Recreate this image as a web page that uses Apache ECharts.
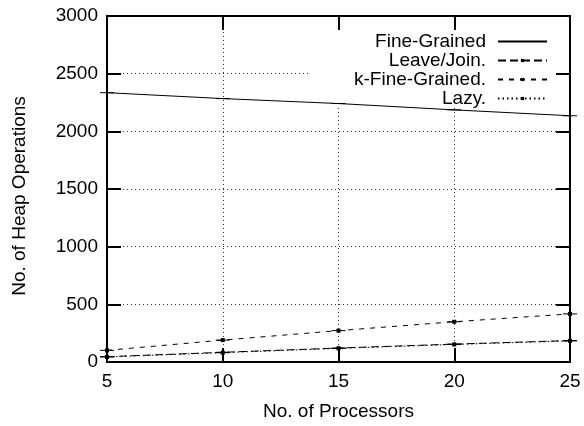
<!DOCTYPE html>
<html><head><meta charset="utf-8">
<script src="https://cdn.jsdelivr.net/npm/echarts@6/dist/echarts.min.js"></script>
<style>html,body{margin:0;padding:0;background:#fff}#c{width:584px;height:426px}</style>
</head><body><div id="c"></div>
<script>
const processors = [5, 10, 15, 20, 25];
const fineGrained = [2335, 2284, 2241, 2186, 2135];
const leaveJoin = [46, 84, 121, 155, 186];
const kFineGrained = [101, 190, 272, 349, 417];
const lazy = [44, 81, 118, 152, 183];
const seriesNames = ['Fine-Grained', 'Leave/Join.', 'k-Fine-Grained.', 'Lazy.'];

const FONT = '"Liberation Sans", Arial, Helvetica, sans-serif';
const FS = 19;
const pair = arr => arr.map((v, i) => [processors[i], v]);

const capData = [];
[fineGrained, leaveJoin, kFineGrained, lazy].forEach(arr => arr.forEach((v, i) => capData.push([processors[i], v])));

const axisLine = () => ({ show: true, lineStyle: { color: '#000', width: 2 } });
const axisTick = () => ({ show: true, inside: true, length: 14, lineStyle: { color: '#000', width: 2 } });
const gridLine = () => ({ show: true, lineStyle: { color: '#333', type: [1, 3], width: 1 } });
const hiddenLabel = () => ({ show: true, color: 'rgba(0,0,0,0)', fontSize: 1 });

const chart = echarts.init(document.getElementById('c'), null, { renderer: 'canvas' });
chart.setOption({
  animation: false,
  backgroundColor: '#fff',
  grid: { left: 107, right: 14, top: 16, bottom: 59, show: true, borderColor: '#000', borderWidth: 2, backgroundColor: 'transparent' },
  legend: {
    orient: 'vertical',
    align: 'right',
    right: 28,
    top: 31,
    padding: [1, 8, 0, 43],
    itemGap: 0,
    itemWidth: 49,
    itemHeight: 4,
    backgroundColor: '#fff',
    textStyle: { fontFamily: FONT, fontSize: FS, color: '#000', padding: [0, 7, 0, 0] },
    data: [
      { name: seriesNames[0], itemStyle: { opacity: 0 } },
      { name: seriesNames[1] },
      { name: seriesNames[2] },
      { name: seriesNames[3] }
    ]
  },
  xAxis: [
    {
      type: 'value', min: 5, max: 25, interval: 5, position: 'bottom',
      axisLine: axisLine(), axisTick: axisTick(),
      axisLabel: { color: '#000', fontFamily: FONT, fontSize: FS, margin: 10 },
      splitLine: gridLine(),
      name: 'No. of Processors', nameLocation: 'middle', nameGap: 40,
      nameTextStyle: { color: '#000', fontFamily: FONT, fontSize: FS }
    },
    {
      type: 'value', min: 5, max: 25, interval: 5, position: 'top',
      axisLine: axisLine(), axisTick: axisTick(), axisLabel: hiddenLabel(), splitLine: { show: false }
    }
  ],
  yAxis: [
    {
      type: 'value', min: 0, max: 3000, interval: 500, position: 'left',
      axisLine: axisLine(), axisTick: axisTick(),
      axisLabel: { color: '#000', fontFamily: FONT, fontSize: FS, margin: 9, formatter: v => String(v) },
      splitLine: gridLine(),
      name: 'No. of Heap Operations', nameLocation: 'middle', nameGap: 78,
      nameTextStyle: { color: '#000', fontFamily: FONT, fontSize: FS, padding: [0, 14, 0, 0] }
    },
    {
      type: 'value', min: 3000, max: 6000, interval: 500, position: 'right',
      axisLine: axisLine(), axisTick: axisTick(), axisLabel: hiddenLabel(), splitLine: { show: false }
    }
  ],
  series: [
    {
      name: seriesNames[0], type: 'line', data: pair(fineGrained), z: 5, clip: false,
      symbol: 'none', lineStyle: { color: '#000', width: 1, type: 'solid' }, itemStyle: { color: '#000' }
    },
    {
      name: seriesNames[1], type: 'line', data: pair(leaveJoin), z: 5, clip: false,
      symbol: 'rect', symbolSize: 3, lineStyle: { color: '#000', width: 1, type: [8, 4] }, itemStyle: { color: '#000' }
    },
    {
      name: seriesNames[2], type: 'line', data: pair(kFineGrained), z: 5, clip: false,
      symbol: 'rect', symbolSize: 4, lineStyle: { color: '#000', width: 1, type: [5, 6] }, itemStyle: { color: '#000' }
    },
    {
      name: seriesNames[3], type: 'line', data: pair(lazy), z: 5, clip: false,
      symbol: 'rect', symbolSize: 4, lineStyle: { color: '#000', width: 1, type: [1.5, 3] }, itemStyle: { color: '#000' }
    },
    {
      type: 'custom', data: capData, z: 6, silent: true, clip: false,
      encode: { x: 0, y: 1 },
      renderItem: function (params, api) {
        const p = api.coord([api.value(0), api.value(1)]);
        return { type: 'line', shape: { x1: p[0] - 7, y1: p[1], x2: p[0] + 7, y2: p[1] }, style: { stroke: '#000', lineWidth: 1 } };
      }
    }
  ]
});
</script>
</body></html>
